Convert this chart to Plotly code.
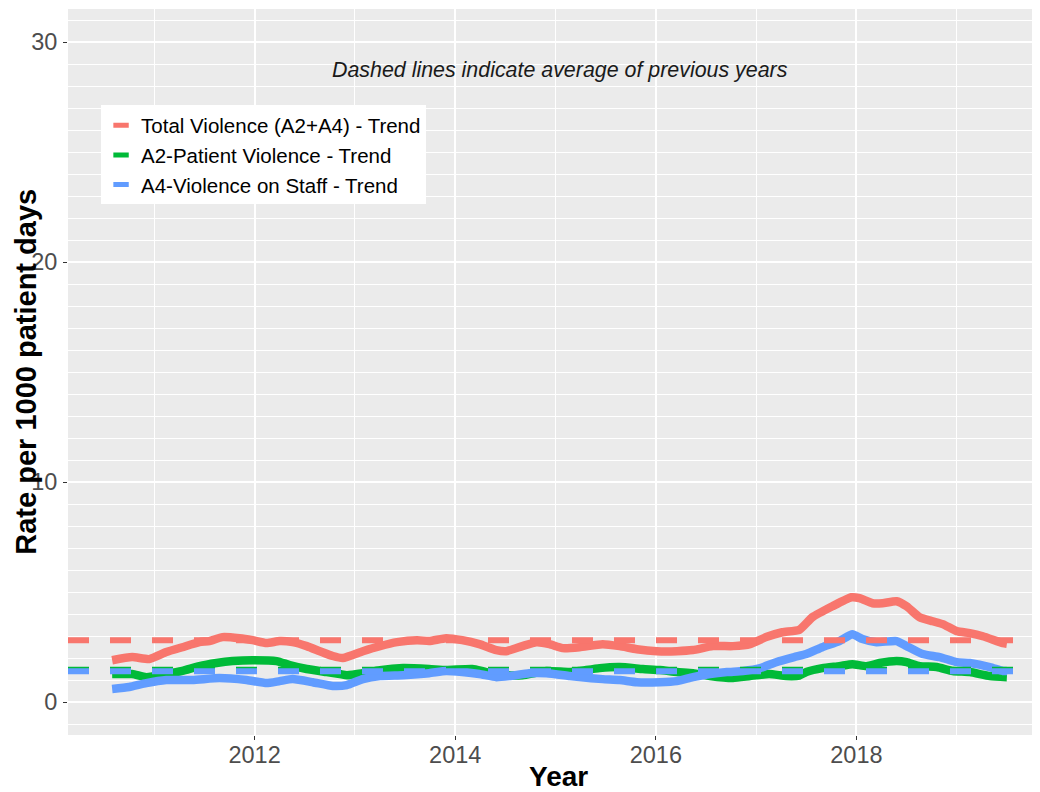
import plotly.graph_objects as go

# ---- data ----
total_x = [2010.58, 2010.78, 2010.95, 2011.12, 2011.28, 2011.45, 2011.55, 2011.68, 2011.85, 2011.98,
           2012.12, 2012.25, 2012.38, 2012.52, 2012.65, 2012.78, 2012.88, 2013.08, 2013.25, 2013.42,
           2013.62, 2013.74, 2013.91, 2014.07, 2014.24, 2014.41, 2014.51, 2014.67, 2014.81, 2014.94,
           2015.07, 2015.24, 2015.47, 2015.64, 2015.81, 2016.01, 2016.21, 2016.37, 2016.57, 2016.77,
           2016.94, 2017.10, 2017.26, 2017.43, 2017.56, 2017.76, 2017.95, 2018.03, 2018.16, 2018.26,
           2018.40, 2018.50, 2018.63, 2018.76, 2018.86, 2019.00, 2019.13, 2019.26, 2019.46, 2019.50]
total_y = [1.90, 2.04, 1.95, 2.27, 2.49, 2.72, 2.77, 2.95, 2.90, 2.81,
           2.68, 2.77, 2.72, 2.54, 2.31, 2.09, 2.00, 2.31, 2.54, 2.72,
           2.81, 2.77, 2.90, 2.81, 2.63, 2.36, 2.31, 2.54, 2.72, 2.63,
           2.45, 2.49, 2.63, 2.54, 2.40, 2.31, 2.31, 2.36, 2.54, 2.54,
           2.63, 2.95, 3.17, 3.28, 3.85, 4.35, 4.76, 4.72, 4.49, 4.49,
           4.58, 4.35, 3.85, 3.67, 3.54, 3.22, 3.13, 2.99, 2.68, 2.65]

a2_x = [2010.58, 2010.78, 2010.92, 2011.12, 2011.28, 2011.45, 2011.62, 2011.78, 2011.98, 2012.22,
        2012.35, 2012.52, 2012.72, 2012.85, 2012.92, 2013.08, 2013.25, 2013.48, 2013.74, 2013.91,
        2014.17, 2014.31, 2014.51, 2014.67, 2014.91, 2015.14, 2015.24, 2015.44, 2015.64, 2015.87,
        2016.04, 2016.21, 2016.37, 2016.54, 2016.77, 2016.94, 2017.13, 2017.30, 2017.43, 2017.50,
        2017.66, 2017.83, 2017.96, 2018.10, 2018.23, 2018.40, 2018.50, 2018.63, 2018.80, 2018.96,
        2019.13, 2019.33, 2019.50]
a2_y = [1.27, 1.27, 1.13, 1.27, 1.41, 1.63, 1.77, 1.86, 1.90, 1.86,
        1.68, 1.50, 1.36, 1.27, 1.22, 1.31, 1.45, 1.54, 1.50, 1.45,
        1.50, 1.36, 1.22, 1.22, 1.41, 1.36, 1.41, 1.54, 1.59, 1.50,
        1.45, 1.36, 1.31, 1.18, 1.09, 1.18, 1.27, 1.18, 1.20, 1.36,
        1.54, 1.63, 1.72, 1.63, 1.77, 1.86, 1.81, 1.63, 1.59, 1.41,
        1.36, 1.18, 1.13]

a4_x = [2010.58, 2010.75, 2010.92, 2011.12, 2011.38, 2011.65, 2011.92, 2012.12, 2012.25, 2012.38,
        2012.58, 2012.78, 2012.92, 2013.08, 2013.25, 2013.48, 2013.74, 2013.91, 2014.07, 2014.24,
        2014.41, 2014.54, 2014.74, 2014.91, 2015.14, 2015.24, 2015.47, 2015.64, 2015.81, 2016.04,
        2016.21, 2016.37, 2016.54, 2016.71, 2016.87, 2017.04, 2017.20, 2017.38, 2017.50, 2017.66,
        2017.83, 2017.96, 2018.06, 2018.20, 2018.40, 2018.50, 2018.66, 2018.83, 2019.00, 2019.13,
        2019.33, 2019.46, 2019.50]
a4_y = [0.59, 0.68, 0.86, 1.00, 1.00, 1.09, 1.00, 0.86, 0.95, 1.04,
        0.90, 0.73, 0.77, 1.04, 1.18, 1.22, 1.31, 1.41, 1.36, 1.27,
        1.13, 1.18, 1.31, 1.31, 1.18, 1.13, 1.04, 1.00, 0.90, 0.90,
        0.95, 1.13, 1.27, 1.36, 1.41, 1.54, 1.81, 2.04, 2.18, 2.49,
        2.77, 3.08, 2.86, 2.72, 2.77, 2.54, 2.18, 2.04, 1.81, 1.77,
        1.59, 1.41, 1.41]

avg_total = 2.81
avg_a2 = 1.47
avg_a4 = 1.40

series_names = ["Total Violence (A2+A4) - Trend", "A2-Patient Violence - Trend", "A4-Violence on Staff - Trend"]
colors = ["#F8766D", "#00BA38", "#619CFF"]

x_range = [2010.14, 2019.83]
y_range = [-1.5, 31.5]
x_ticks = [2012, 2014, 2016, 2018]
y_ticks = [0, 10, 20, 30]

FONT = "Liberation Sans, Arial, sans-serif"

fig = go.Figure()

series = [(total_x, total_y), (a2_x, a2_y), (a4_x, a4_y)]
for (xs, ys), name, col in zip(series, series_names, colors):
    fig.add_trace(go.Scatter(x=xs, y=ys, mode="lines", name=name, showlegend=False,
                             line=dict(color=col, width=8.5, shape="spline", smoothing=0.5)))

for avg, col in zip([avg_total, avg_a2, avg_a4], colors):
    fig.add_trace(go.Scatter(x=x_range, y=[avg, avg], mode="lines", showlegend=False,
                             hoverinfo="skip",
                             line=dict(color=col, width=6, dash="21px,21px")))

# legend keys (ggplot-like short thick swatches)
for name, col in zip(series_names, colors):
    fig.add_trace(go.Scatter(x=[None], y=[None], mode="markers", name=name,
                             marker=dict(symbol="line-ew", size=11,
                                         line=dict(color=col, width=7.5))))

fig.add_annotation(text="<i>Dashed lines indicate average of previous years</i>",
                   xref="paper", yref="paper", x=0.506, y=0.916,
                   xanchor="center", yanchor="middle", showarrow=False,
                   font=dict(family=FONT, size=21.4, color="#1a1a1a"))

# axis titles (ggplot places the y title overlapping the tick labels)
fig.add_annotation(text="<b>Rate per 1000 patient days</b>", textangle=-90,
                   xref="paper", yref="paper", x=-0.0435, y=0.5,
                   xanchor="center", yanchor="middle", showarrow=False,
                   font=dict(family=FONT, size=29, color="black"))
fig.add_annotation(text="<b>Year</b>",
                   xref="paper", yref="paper", x=0.505, y=-0.0565,
                   xanchor="center", yanchor="middle", showarrow=False,
                   font=dict(family=FONT, size=28, color="black"))

# page body has an 8px margin: figure is 1032x784 placed at (8,8)
fig.update_layout(
    width=1032, height=784,
    margin=dict(l=60, r=0, t=1, b=57),
    paper_bgcolor="white", plot_bgcolor="#EBEBEB",
    font=dict(family=FONT),
    legend=dict(x=0.034, y=0.799, xanchor="left", yanchor="middle",
                bgcolor="white", borderwidth=0,
                font=dict(family=FONT, size=20.5, color="black"),
                itemwidth=30, tracegroupgap=0),
    xaxis=dict(range=x_range, tickvals=x_ticks, showgrid=True, gridcolor="white", gridwidth=1.6,
               zeroline=False, ticks="outside", ticklen=4, tickcolor="#333333", tickwidth=1,
               automargin=False, ticklabelstandoff=-5,
               tickfont=dict(family=FONT, size=23.5, color="#4D4D4D"),
               minor=dict(dtick=1, tick0=2011, showgrid=True, gridcolor="white", gridwidth=1.2)),
    yaxis=dict(range=y_range, tickvals=y_ticks, showgrid=True, gridcolor="white", gridwidth=1.6,
               zeroline=False, ticks="outside", ticklen=4, tickcolor="#333333", tickwidth=1,
               automargin=False, ticklabelstandoff=1,
               tickfont=dict(family=FONT, size=23.5, color="#4D4D4D"),
               minor=dict(dtick=1, tick0=0, showgrid=True, gridcolor="white", gridwidth=1.2)),
)

fig.write_html("out.html")
